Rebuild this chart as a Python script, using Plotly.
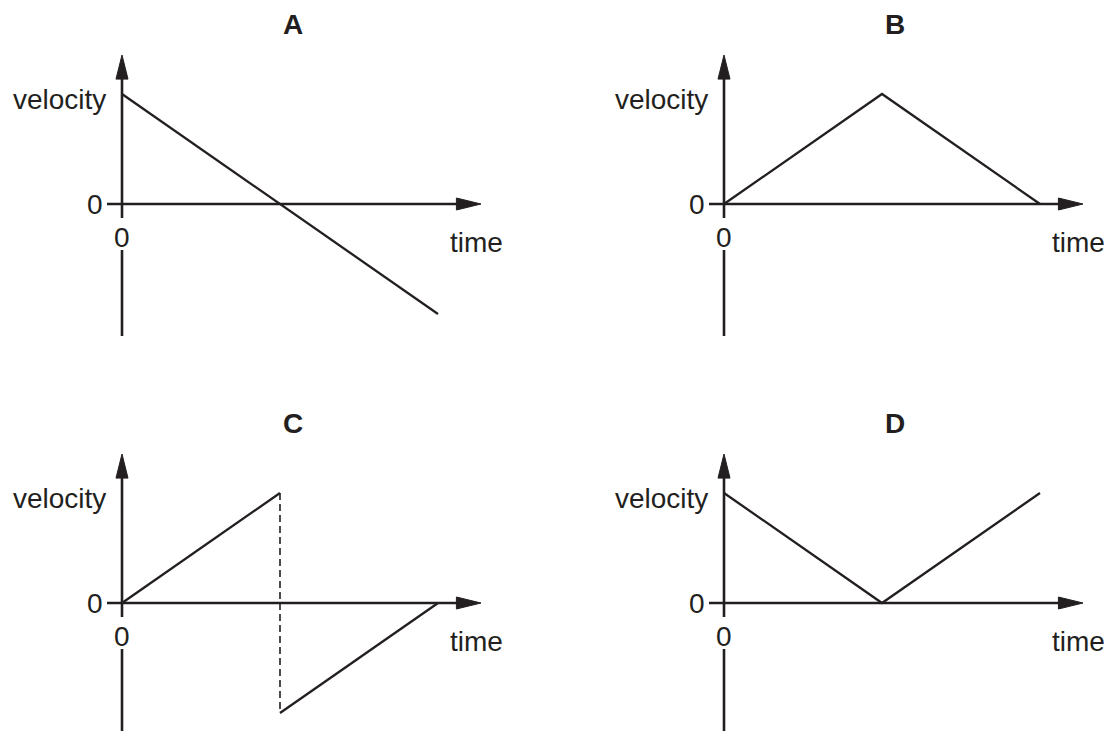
import plotly.graph_objects as go
from plotly.subplots import make_subplots

# data for the four velocity-time sketches (time and velocity in arbitrary units)
time_a = [0, 2]
vel_a = [1, -1]

time_b = [0, 1, 2]
vel_b = [0, 1, 0]

time_c_up = [0, 1]
vel_c_up = [0, 1]
time_c_jump = [1, 1]
vel_c_jump = [1, -1]
time_c_down = [1, 2]
vel_c_down = [-1, 0]

time_d = [0, 1, 2]
vel_d = [1, 0, 1]

panel_titles = ["A", "B", "C", "D"]
axis_zero_label = "0"
y_label = "velocity"
x_label = "time"

# layout geometry (pixels)
W, H = 1109, 731
PX_T = 158.0   # pixels per time unit
PX_V = 110.0   # pixels per velocity unit
origins = {(1, 1): (122, 204), (1, 2): (724, 204),
           (2, 1): (122, 603), (2, 2): (724, 603)}
INK = "#231f20"
FONT = "Liberation Sans, Arial, Helvetica, sans-serif"

fig = make_subplots(rows=2, cols=2, horizontal_spacing=0, vertical_spacing=0)

panels = [
    ((1, 1), [(time_a, vel_a, "solid")]),
    ((1, 2), [(time_b, vel_b, "solid")]),
    ((2, 1), [(time_c_up, vel_c_up, "solid"),
              (time_c_jump, vel_c_jump, "dash"),
              (time_c_down, vel_c_down, "solid")]),
    ((2, 2), [(time_d, vel_d, "solid")]),
]

for i, ((r, c), series) in enumerate(panels):
    n = i + 1
    xr = "x" if n == 1 else "x%d" % n
    yr = "y" if n == 1 else "y%d" % n
    ox, oy = origins[(r, c)]
    x0px = 0 if c == 1 else W / 2
    x1px = W / 2 if c == 1 else W
    y0px = 0 if r == 1 else H / 2
    y1px = H / 2 if r == 1 else H
    fig.update_xaxes(range=[(x0px - ox) / PX_T, (x1px - ox) / PX_T],
                     visible=False, row=r, col=c)
    fig.update_yaxes(range=[(oy - y1px) / PX_V, (oy - y0px) / PX_V],
                     visible=False, row=r, col=c)

    # axes drawn as plain lines with filled arrowheads
    ax_line = dict(color=INK, width=2.6)
    t_tick = -15 / PX_T
    t_base, t_tip = 336 / PX_T, 359 / PX_T
    v_base, v_tip = 126 / PX_V, 149 / PX_V
    v_gap_top, v_gap_bot = -14 / PX_V, -46 / PX_V
    hw_t, hw_v = 6 / PX_T, 6 / PX_V
    fig.add_shape(type="line", xref=xr, yref=yr, x0=t_tick, y0=0,
                  x1=t_base, y1=0, line=ax_line)
    fig.add_shape(type="line", xref=xr, yref=yr, x0=0, y0=v_gap_top,
                  x1=0, y1=v_base, line=ax_line)
    fig.add_shape(type="line", xref=xr, yref=yr, x0=0, y0=v_gap_bot,
                  x1=0, y1=-132 / PX_V, line=ax_line)
    fig.add_shape(type="path", xref=xr, yref=yr, line=dict(color=INK, width=1),
                  fillcolor=INK,
                  path="M %f,%f L %f,0 L %f,%f Z" % (t_base - 0.01, hw_v, t_tip,
                                                    t_base - 0.01, -hw_v))
    fig.add_shape(type="path", xref=xr, yref=yr, line=dict(color=INK, width=1),
                  fillcolor=INK,
                  path="M %f,%f L 0,%f L %f,%f Z" % (-hw_t, v_base - 0.01, v_tip,
                                                    hw_t, v_base - 0.01))

    for t, v, dash in series:
        fig.add_trace(go.Scatter(x=t, y=v, mode="lines", showlegend=False,
                                 hoverinfo="skip",
                                 line=dict(color=INK,
                                           width=1.6 if dash == "dash" else 2.3,
                                           dash="7px,4px" if dash == "dash" else "solid")),
                      row=r, col=c)

    txt = dict(family=FONT, size=28, color=INK)
    fig.add_annotation(xref=xr, yref=yr, x=171 / PX_T, y=180 / PX_V,
                       text="<b>%s</b>" % panel_titles[i], showarrow=False,
                       font=dict(family=FONT, size=28, color=INK))
    fig.add_annotation(xref=xr, yref=yr, x=-14 / PX_T, y=105 / PX_V,
                       text=y_label, showarrow=False, xanchor="right", font=txt)
    fig.add_annotation(xref=xr, yref=yr, x=-17 / PX_T, y=0,
                       text=axis_zero_label, showarrow=False, xanchor="right", font=txt)
    fig.add_annotation(xref=xr, yref=yr, x=0, y=-33 / PX_V,
                       text=axis_zero_label, showarrow=False, font=txt)
    fig.add_annotation(xref=xr, yref=yr, x=354 / PX_T, y=-38 / PX_V,
                       text=x_label, showarrow=False, font=txt)

fig.update_layout(width=W, height=H, margin=dict(l=0, r=0, t=0, b=0),
                  plot_bgcolor="white", paper_bgcolor="white",
                  showlegend=False)

# drop the page's default 8px body margin so the figure fills the window
fig.write_html("out.html", config={"displayModeBar": False},
               post_script="document.body.style.margin = '0';")
